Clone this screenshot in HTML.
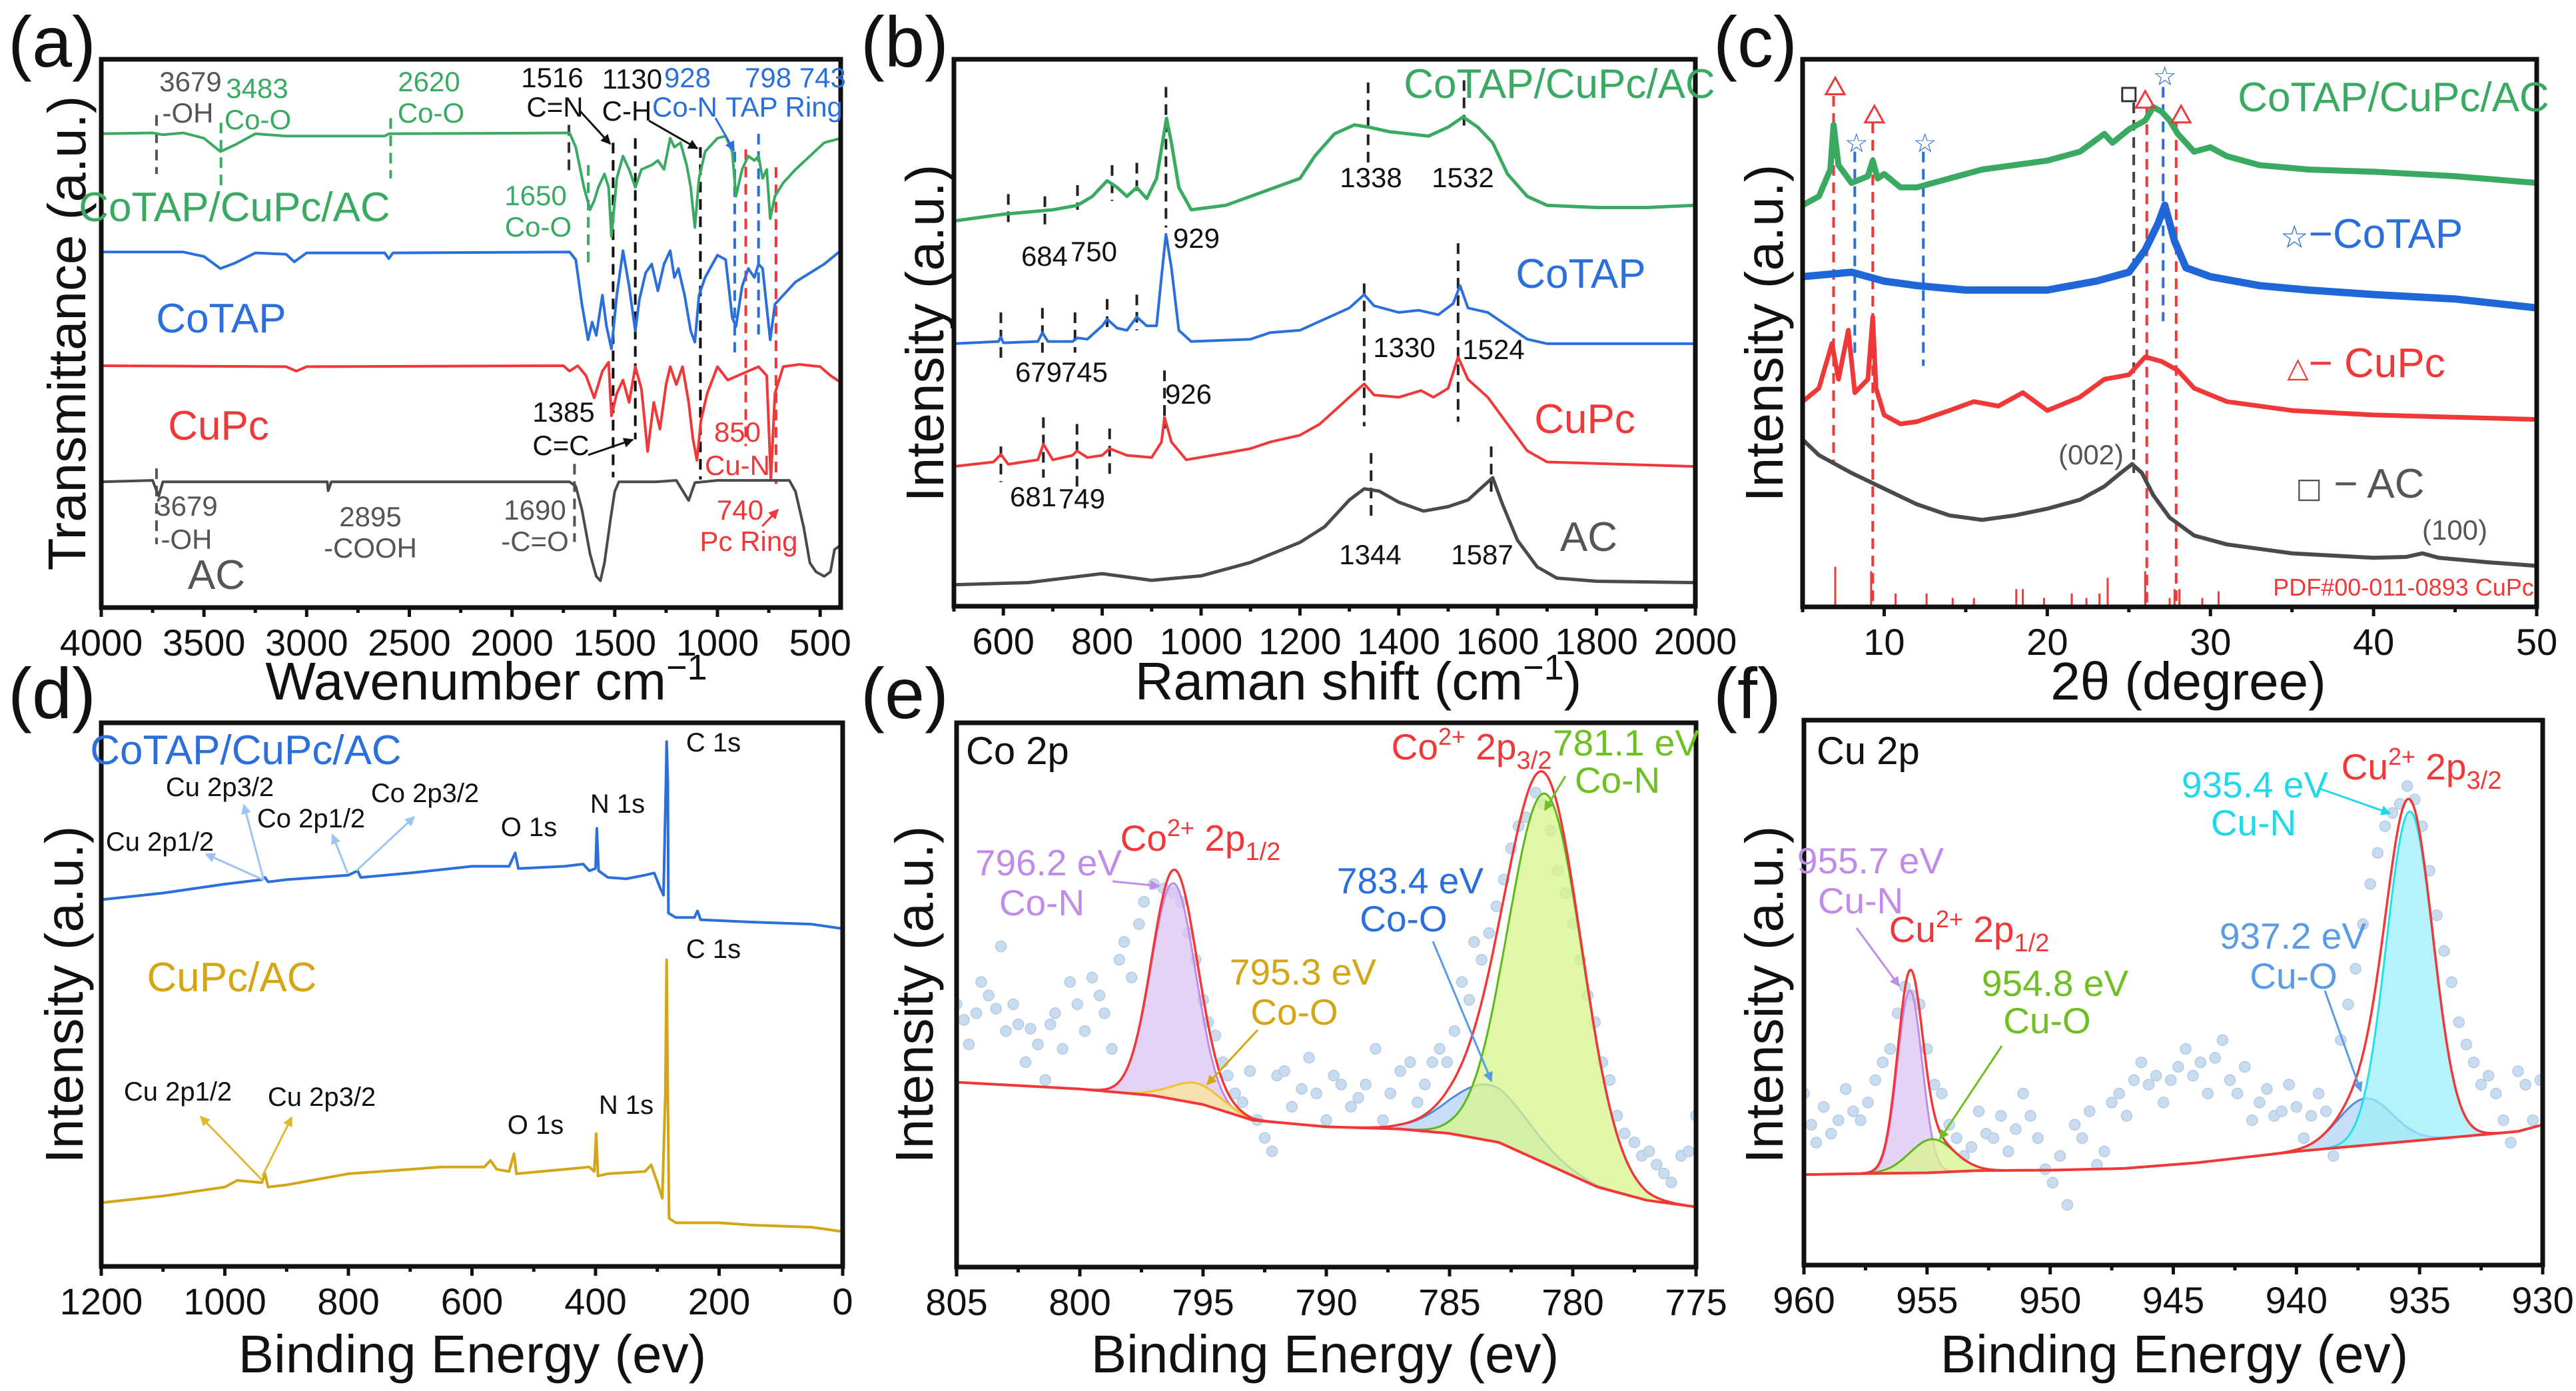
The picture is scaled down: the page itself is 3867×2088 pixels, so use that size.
<!DOCTYPE html>
<html><head><meta charset="utf-8">
<style>
html,body{margin:0;padding:0;background:#fff;}
svg{display:block;font-family:"Liberation Sans","DejaVu Sans",sans-serif;}
</style></head>
<body>
<svg id="fig" xmlns="http://www.w3.org/2000/svg" width="3867" height="2088" viewBox="0 0 3867 2088">
<rect width="3867" height="2088" fill="#fff"/>
<defs>
<marker id="ahK" viewBox="0 0 10 10" refX="9" refY="5" markerWidth="5" markerHeight="5" orient="auto"><path d="M0,0L10,5L0,10z" fill="#111"/></marker>
<marker id="ahB" viewBox="0 0 10 10" refX="9" refY="5" markerWidth="5" markerHeight="5" orient="auto"><path d="M0,0L10,5L0,10z" fill="#2a6fdb"/></marker>
<marker id="ahR" viewBox="0 0 10 10" refX="9" refY="5" markerWidth="5" markerHeight="5" orient="auto"><path d="M0,0L10,5L0,10z" fill="#f03838"/></marker>
<marker id="ahL" viewBox="0 0 10 10" refX="9" refY="5" markerWidth="5" markerHeight="5" orient="auto"><path d="M0,0L10,5L0,10z" fill="#9cc4f0"/></marker>
<marker id="ahG" viewBox="0 0 10 10" refX="9" refY="5" markerWidth="5" markerHeight="5" orient="auto"><path d="M0,0L10,5L0,10z" fill="#e0b830"/></marker>
<marker id="ahP" viewBox="0 0 10 10" refX="9" refY="5" markerWidth="5" markerHeight="5" orient="auto"><path d="M0,0L10,5L0,10z" fill="#c08ce8"/></marker>
<marker id="ahY" viewBox="0 0 10 10" refX="9" refY="5" markerWidth="5" markerHeight="5" orient="auto"><path d="M0,0L10,5L0,10z" fill="#d4a514"/></marker>
<marker id="ahE" viewBox="0 0 10 10" refX="9" refY="5" markerWidth="5" markerHeight="5" orient="auto"><path d="M0,0L10,5L0,10z" fill="#6cc020"/></marker>
<marker id="ahC" viewBox="0 0 10 10" refX="9" refY="5" markerWidth="5" markerHeight="5" orient="auto"><path d="M0,0L10,5L0,10z" fill="#20d8ea"/></marker>
<marker id="ahU" viewBox="0 0 10 10" refX="9" refY="5" markerWidth="5" markerHeight="5" orient="auto"><path d="M0,0L10,5L0,10z" fill="#5a9be8"/></marker>
</defs>
<g id="plots"></g>

<!-- panel labels -->
<g font-size="108" fill="#111">
<text x="12" y="100">(a)</text>
<text x="1292" y="100">(b)</text>
<text x="2572" y="100">(c)</text>
<text x="12" y="1078">(d)</text>
<text x="1292" y="1078">(e)</text>
<text x="2572" y="1078">(f)</text>
</g>

<!-- axis titles -->
<g font-size="80" fill="#111" text-anchor="middle">
<text x="730" y="1050">Wavenumber cm<tspan dy="-30" font-size="54">−1</tspan></text>
<text x="2039" y="1050">Raman shift (cm<tspan dy="-30" font-size="54">−1</tspan><tspan dy="30">)</tspan></text>
<text x="3285" y="1050">2θ (degree)</text>
<text x="709" y="2060">Binding Energy (ev)</text>
<text x="1989" y="2060">Binding Energy (ev)</text>
<text x="3264" y="2060">Binding Energy (ev)</text>
<text transform="translate(128,500) rotate(-90)">Transmittance (a.u.)</text>
<text transform="translate(1416,500) rotate(-90)">Intensity (a.u.)</text>
<text transform="translate(2676,500) rotate(-90)">Intensity (a.u.)</text>
<text transform="translate(124,1493) rotate(-90)">Intensity (a.u.)</text>
<text transform="translate(1400,1493) rotate(-90)">Intensity (a.u.)</text>
<text transform="translate(2676,1493) rotate(-90)">Intensity (a.u.)</text>
</g>

<!-- panel a annotations -->
<g font-size="42" text-anchor="middle">
<text x="286" y="137" fill="#555">3679</text>
<text x="282" y="184" fill="#555">-OH</text>
<text x="386" y="147" fill="#3aaa62">3483</text>
<text x="387" y="194" fill="#3aaa62">Co-O</text>
<text x="644" y="137" fill="#3aaa62">2620</text>
<text x="647" y="184" fill="#3aaa62">Co-O</text>
<text x="829" y="131" fill="#111">1516</text>
<text x="833" y="175" fill="#111">C=N</text>
<text x="949" y="133" fill="#111">1130</text>
<text x="941" y="181" fill="#111">C-H</text>
<text x="1032" y="131" fill="#2a6fdb">928</text>
<text x="1028" y="175" fill="#2a6fdb">Co-N</text>
<text x="1194" y="131" fill="#2a6fdb">798 743</text>
<text x="1177" y="175" fill="#2a6fdb">TAP Ring</text>
<text x="804" y="308" fill="#3aaa62">1650</text>
<text x="808" y="355" fill="#3aaa62">Co-O</text>
<text x="846" y="633" fill="#111">1385</text>
<text x="842" y="683" fill="#111">C=C</text>
<text x="1107" y="663" fill="#f03838">850</text>
<text x="1107" y="713" fill="#f03838">Cu-N</text>
<text x="280" y="774" fill="#555">3679</text>
<text x="280" y="824" fill="#555">-OH</text>
<text x="556" y="790" fill="#555">2895</text>
<text x="556" y="837" fill="#555">-COOH</text>
<text x="803" y="780" fill="#555">1690</text>
<text x="803" y="827" fill="#555">-C=O</text>
<text x="1111" y="780" fill="#f03838">740</text>
<text x="1124" y="827" fill="#f03838">Pc Ring</text>
</g>
<g font-size="62" text-anchor="middle">
<text x="352" y="332" fill="#3aaa62">CoTAP/CuPc/AC</text>
<text x="332" y="499" fill="#2a6fdb">CoTAP</text>
<text x="328" y="660" fill="#f03838">CuPc</text>
<text x="325" y="884" fill="#555">AC</text>
</g>
<g stroke-width="3" fill="none">
<line x1="871" y1="167" x2="916" y2="216" stroke="#111" marker-end="url(#ahK)"/>
<line x1="974" y1="181" x2="1047" y2="223" stroke="#111" marker-end="url(#ahK)"/>
<line x1="1074" y1="177" x2="1102" y2="226" stroke="#2a6fdb" marker-end="url(#ahB)"/>
<line x1="883" y1="683" x2="950" y2="660" stroke="#111" marker-end="url(#ahK)"/>
<line x1="1144" y1="790" x2="1168" y2="765" stroke="#f03838" marker-end="url(#ahR)"/>
</g>

<!-- panel b annotations -->
<g font-size="42" text-anchor="middle" fill="#111">
<text x="2058" y="281">1338</text>
<text x="2196" y="281">1532</text>
<text x="1568" y="399">684</text>
<text x="1642" y="392">750</text>
<text x="1796" y="372">929</text>
<text x="1559" y="573">679</text>
<text x="1628" y="573">745</text>
<text x="2108" y="536">1330</text>
<text x="2242" y="539">1524</text>
<text x="1784" y="606">926</text>
<text x="1551" y="760">681</text>
<text x="1624" y="763">749</text>
<text x="2057" y="847">1344</text>
<text x="2225" y="847">1587</text>
</g>
<g font-size="62" text-anchor="middle">
<text x="2341" y="147" fill="#3aaa62">CoTAP/CuPc/AC</text>
<text x="2373" y="432" fill="#2a6fdb">CoTAP</text>
<text x="2379" y="650" fill="#f03838">CuPc</text>
<text x="2385" y="827" fill="#555">AC</text>
</g>

<!-- panel c annotations -->
<g font-size="62" text-anchor="middle">
<text x="3593" y="167" fill="#3aaa62">CoTAP/CuPc/AC</text>
<text x="3560" y="372" fill="#2a6fdb"><tspan font-family="DejaVu Sans" font-size="48">☆</tspan>−CoTAP</text>
<text x="3552" y="566" fill="#f03838"><tspan font-family="DejaVu Sans" font-size="42">△</tspan>− CuPc</text>
<text x="3543" y="747" fill="#555"><tspan font-family="DejaVu Sans" font-size="42">□</tspan> −  AC</text>
</g>
<g font-size="42" text-anchor="middle" fill="#555">
<text x="3139" y="697">(002)</text>
<text x="3685" y="810">(100)</text>
<text x="3608" y="894" font-size="36" fill="#f03838">PDF#00-011-0893  CuPc</text>
</g>

<!-- panel d annotations -->
<g font-size="40" text-anchor="middle" fill="#111">
<text x="330" y="1195">Cu 2p3/2</text>
<text x="638" y="1204">Co 2p3/2</text>
<text x="467" y="1242">Co 2p1/2</text>
<text x="240" y="1277">Cu 2p1/2</text>
<text x="794" y="1255">O 1s</text>
<text x="927" y="1220">N 1s</text>
<text x="1071" y="1128">C 1s</text>
<text x="1071" y="1438">C 1s</text>
<text x="267" y="1652">Cu 2p1/2</text>
<text x="483" y="1660">Cu 2p3/2</text>
<text x="804" y="1702">O 1s</text>
<text x="940" y="1672">N 1s</text>
</g>
<g font-size="62" text-anchor="middle">
<text x="369" y="1147" fill="#2a6fdb">CoTAP/CuPc/AC</text>
<text x="348" y="1488" fill="#d4a514">CuPc/AC</text>
</g>
<g stroke-width="3" fill="none">
<line x1="396" y1="1321" x2="309" y2="1282" stroke="#9cc4f0" marker-end="url(#ahL)"/>
<line x1="396" y1="1321" x2="366" y2="1208" stroke="#9cc4f0" marker-end="url(#ahL)"/>
<line x1="522" y1="1311" x2="499" y2="1253" stroke="#9cc4f0" marker-end="url(#ahL)"/>
<line x1="535" y1="1307" x2="622" y2="1226" stroke="#9cc4f0" marker-end="url(#ahL)"/>
<line x1="394" y1="1772" x2="301" y2="1676" stroke="#e0b830" marker-end="url(#ahG)"/>
<line x1="394" y1="1765" x2="438" y2="1677" stroke="#e0b830" marker-end="url(#ahG)"/>
</g>

<!-- panel e annotations -->
<g font-size="55" text-anchor="middle">
<text x="1450" y="1147" text-anchor="start" fill="#111" font-size="58">Co 2p</text>
<text x="2209" y="1140" fill="#f03838">Co<tspan dy="-22" font-size="36">2+</tspan><tspan dy="22"> 2p</tspan><tspan dy="14" font-size="38">3/2</tspan></text>
<text x="1802" y="1277" fill="#f03838">Co<tspan dy="-22" font-size="36">2+</tspan><tspan dy="22"> 2p</tspan><tspan dy="14" font-size="38">1/2</tspan></text>
<text x="2441" y="1134" fill="#6cc020">781.1 eV</text>
<text x="2428" y="1190" fill="#6cc020">Co-N</text>
<text x="1574" y="1314" fill="#c08ce8">796.2 eV</text>
<text x="1564" y="1374" fill="#c08ce8">Co-N</text>
<text x="2117" y="1341" fill="#2a6fdb">783.4 eV</text>
<text x="2107" y="1398" fill="#2a6fdb">Co-O</text>
<text x="1956" y="1478" fill="#d4a514">795.3 eV</text>
<text x="1943" y="1538" fill="#d4a514">Co-O</text>
</g>
<g stroke-width="3" fill="none">
<line x1="1670" y1="1323" x2="1740" y2="1330" stroke="#c08ce8" marker-end="url(#ahP)"/>
<line x1="1888" y1="1546" x2="1812" y2="1628" stroke="#d4a514" marker-end="url(#ahY)"/>
<line x1="2151" y1="1413" x2="2239" y2="1623" stroke="#5a9be8" marker-end="url(#ahU)"/>
<line x1="2350" y1="1165" x2="2319" y2="1216" stroke="#6cc020" marker-end="url(#ahE)"/>
</g>

<!-- panel f annotations -->
<g font-size="55" text-anchor="middle">
<text x="2727" y="1147" text-anchor="start" fill="#111" font-size="58">Cu 2p</text>
<text x="3635" y="1170" fill="#f03838">Cu<tspan dy="-22" font-size="36">2+</tspan><tspan dy="22"> 2p</tspan><tspan dy="14" font-size="38">3/2</tspan></text>
<text x="2956" y="1414" fill="#f03838">Cu<tspan dy="-22" font-size="36">2+</tspan><tspan dy="22"> 2p</tspan><tspan dy="14" font-size="38">1/2</tspan></text>
<text x="3385" y="1197" fill="#20d8ea">935.4 eV</text>
<text x="3383" y="1254" fill="#20d8ea">Cu-N</text>
<text x="2808" y="1311" fill="#c08ce8">955.7 eV</text>
<text x="2793" y="1371" fill="#c08ce8">Cu-N</text>
<text x="3085" y="1495" fill="#6cc020">954.8 eV</text>
<text x="3073" y="1551" fill="#6cc020">Cu-O</text>
<text x="3442" y="1424" fill="#5a9be8">937.2 eV</text>
<text x="3443" y="1484" fill="#5a9be8">Cu-O</text>
</g>
<g stroke-width="3" fill="none">
<line x1="3480" y1="1183" x2="3588" y2="1221" stroke="#20d8ea" marker-end="url(#ahC)"/>
<line x1="2787" y1="1393" x2="2851" y2="1480" stroke="#c08ce8" marker-end="url(#ahP)"/>
<line x1="3005" y1="1570" x2="2912" y2="1710" stroke="#6cc020" marker-end="url(#ahE)"/>
<line x1="3490" y1="1487" x2="3544" y2="1638" stroke="#5a9be8" marker-end="url(#ahU)"/>
</g>
</svg>

<script>
// ---------------- DATA ----------------
const aGreen=[[4000,1100],[3750,1102],[3700,1098],[3600,1102],[3500,1090],[3420,1060],[3350,1075],[3250,1100],[3100,1095],[2620,1095],[2600,1100],[1720,1102],[1690,1070],[1650,980],[1620,930],[1600,950],[1580,980],[1550,1010],[1530,980],[1516,870],[1490,1000],[1460,1050],[1430,1020],[1400,980],[1370,1020],[1320,1030],[1290,1040],[1260,1020],[1230,1090],[1210,1070],[1180,1080],[1150,1030],[1130,980],[1110,890],[1090,1000],[1060,1060],[1000,1090],[960,1095],[928,1060],[910,960],[880,1020],[850,1050],[820,1040],[800,1050],[780,1000],[760,1020],[743,910],[720,960],[680,990],[620,1020],[550,1050],[480,1080],[400,1090]];
const aBlue=[[4000,835],[3600,835],[3500,825],[3420,798],[3350,810],[3250,833],[3100,830],[3060,813],[3000,833],[2620,833],[2600,820],[2580,833],[1720,835],[1690,818],[1660,718],[1630,638],[1610,678],[1590,648],[1560,738],[1540,668],[1516,618],[1490,738],[1460,838],[1430,758],[1400,658],[1380,728],[1350,788],[1320,808],[1290,748],[1260,808],[1230,838],[1210,778],[1190,798],[1160,738],[1130,658],[1110,633],[1090,738],[1060,778],[1000,828],[960,818],[928,688],[910,668],[880,758],[850,798],[820,778],[800,808],[780,798],[743,638],[720,718],[680,738],[620,768],[550,788],[480,808],[400,838]];
const aRed=[[4000,580],[3100,578],[3050,568],[3000,578],[1750,580],[1720,568],[1680,580],[1640,558],[1600,508],[1560,568],[1530,588],[1516,468],[1490,518],[1460,548],[1430,498],[1400,578],[1370,528],[1340,388],[1310,498],[1280,438],[1250,538],[1230,578],[1200,538],[1170,578],[1140,498],[1120,418],[1100,368],[1080,458],[1050,518],[1000,578],[950,548],[900,558],[850,568],[800,578],[760,558],[740,325],[720,518],[680,578],[600,583],[500,578],[450,558],[400,543]];
const aGray=[[4000,320],[3750,323],[3720,288],[3700,320],[3500,320],[2900,320],[2895,300],[2880,320],[1720,320],[1690,310],[1660,258],[1620,158],[1590,108],[1570,98],[1550,138],[1520,238],[1500,298],[1480,320],[1300,320],[1200,323],[1140,278],[1110,318],[1000,323],[800,323],[650,323],[620,298],[580,218],[550,138],[520,118],[480,108],[450,118],[430,168],[400,178]];
const aDash=[[3731,1142,1010,'#555'],[3731,350,180,'#555'],[3417,1125,980,'#3aaa62'],[2591,1135,1000,'#3aaa62'],[1723,1120,1010,'#333'],[1696,360,185,'#555'],[1629,1030,800,'#3aaa62'],[1508,1080,330,'#111'],[1400,1090,415,'#111'],[1083,1070,325,'#111'],[916,1060,610,'#2a6fdb'],[862,1065,400,'#f03838'],[800,1100,650,'#2a6fdb'],[715,1025,315,'#f03838']];
const aTicks=[4000,3500,3000,2500,2000,1500,1000,500];
const bGreen=[[500,905],[600,920],[700,930],[750,940],[780,960],[810,995],[830,980],[850,960],[870,980],[890,955],[910,1000],[925,1100],[930,1135],[940,1080],[955,980],[980,930],[1050,940],[1100,960],[1150,980],[1200,1000],[1230,1050],[1270,1100],[1310,1120],[1340,1115],[1380,1105],[1420,1100],[1460,1095],[1500,1115],[1530,1138],[1560,1115],[1590,1080],[1620,1010],[1660,960],[1700,940],[1800,935],[1900,935],[2000,940]];
const bBlue=[[500,630],[590,635],[595,645],[600,632],[670,635],[679,655],[690,635],[740,635],[750,643],[770,640],[800,670],[810,685],[830,665],[850,660],[870,690],[890,670],[910,670],[920,780],[929,875],[940,800],[955,660],[980,635],[1100,640],[1140,655],[1200,660],[1260,690],[1300,710],[1330,740],[1350,715],[1400,700],[1440,705],[1480,695],[1510,720],[1524,760],[1540,710],[1580,700],[1620,670],[1660,640],[1700,630],[2000,630]];
const bRed=[[500,355],[580,365],[595,382],[610,360],[670,370],[681,405],[700,370],[740,380],[749,390],[770,375],[800,380],[815,395],[850,380],[900,375],[920,410],[926,465],[940,410],[970,370],[1050,385],[1100,395],[1140,410],[1200,425],[1240,450],[1280,490],[1310,520],[1330,540],[1350,515],[1400,510],[1445,525],[1470,510],[1500,530],[1520,600],[1540,550],[1580,510],[1620,450],[1660,390],[1700,365],[2000,355]];
const bGray=[[500,90],[650,95],[800,115],[900,100],[1000,110],[1100,140],[1200,185],[1250,220],[1300,280],[1330,305],[1360,300],[1400,275],[1450,255],[1500,265],[1540,280],[1570,310],[1590,330],[1610,270],[1640,190],[1680,130],[1720,105],[1800,98],[2000,95]];
const bDash=[[929,1205,890],[1338,1215,1030],[1532,1220,1110],[610,965,895],[684,960,890],[750,985,930],[820,1030,950],[870,1035,960],[595,700,590],[679,710,610],[745,700,610],[810,730,660],[870,740,660],[1330,765,445],[1520,855,455],[595,400,320],[681,465,330],[749,450,310],[815,440,335],[926,570,440],[1344,385,230],[1587,400,295]];
const bTicks=[600,800,1000,1200,1400,1600,1800,2000];
const cGreen=[[5,940],[6,960],[6.7,1020],[6.9,1120],[7.2,1030],[8,990],[9,1005],[9.3,1040],[9.6,1000],[10,1010],[11,980],[12,980],[14,1000],[16,1020],[18,1030],[20,1040],[22,1060],[23.5,1100],[24,1080],[25,1110],[26,1130],[26.5,1160],[27,1150],[27.5,1130],[28,1100],[29,1060],[30,1070],[31,1050],[33,1030],[36,1020],[40,1015],[45,1005],[50,990]];
const cBlue=[[5,780],[8,790],[10,770],[12,760],[15,750],[20,750],[23,770],[25,790],[26,840],[26.8,900],[27.2,940],[27.8,860],[28.5,800],[30,780],[33,760],[36,750],[40,740],[45,730],[50,710]];
const cRed=[[5,500],[6,530],[6.8,630],[7.2,550],[7.8,660],[8.2,520],[9,550],[9.3,690],[9.5,530],[10,470],[11,450],[12,455],[14,480],[15.5,500],[17,490],[18.5,520],[20,480],[22,510],[23.5,550],[25,560],[26,600],[27,590],[28,570],[29,530],[31,500],[35,480],[40,470],[45,465],[50,460]];
const cGray=[[5,415],[6,380],[8,340],[10,305],[12,270],[14,245],[16,235],[18,245],[20,260],[22,280],[23.5,310],[24.5,340],[25.2,360],[25.8,340],[26.5,290],[27.5,240],[29,200],[31,180],[35,160],[40,150],[42,152],[43,160],[44,150],[47,140],[50,132]];
const cRefBars=[[7,130],[9.2,120],[10.7,70],[12.6,70],[14.2,60],[15.5,60],[18.1,80],[18.5,80],[19.8,60],[21.5,70],[22.4,60],[23.2,70],[23.7,105],[26,120],[27.5,60],[27.8,80],[28.1,80],[29.5,60],[30.5,75]];
const cDash=[[6.9,1185,360,'#f03838'],[9.3,1125,40,'#f03838'],[8.2,1060,600,'#2a6fdb'],[12.4,1060,580,'#2a6fdb'],[25.3,1170,340,'#444'],[26.1,1160,40,'#f03838'],[27.1,1205,680,'#2a6fdb'],[27.9,1125,40,'#f03838']];
const cTri=[[7,1205],[9.4,1142],[26,1175],[28.2,1142]];
const cStar=[[8.3,1080],[12.5,1080],[27.2,1230]];
const cSquare=[[25,1188]];
const cTicks=[10,20,30,40,50];
const dBlue=[[1200,935],[1100,950],[1000,970],[940,980],[935,985],[930,975],[900,980],[800,990],[785,1000],[780,985],[700,995],[600,1010],[540,1010],[530,1040],[525,1005],[450,1010],[420,1015],[410,1000],[400,1005],[398,1095],[395,1000],[380,985],[350,982],[320,990],[305,995],[295,960],[290,945],[286,1200],[285,1290],[283,1200],[282,905],[270,895],[240,895],[235,910],[230,890],[150,885],[50,880],[0,870]];
const dGold=[[1200,255],[1100,270],[1000,290],[980,305],[940,300],[935,320],[930,290],[900,295],[800,320],[700,330],[650,335],[580,335],[570,350],[560,330],[540,325],[532,365],[528,320],[450,330],[410,335],[402,325],[399,410],[396,315],[380,320],[320,325],[310,340],[300,300],[292,265],[287,500],[285,800],[283,500],[281,220],[270,210],[200,210],[150,205],[50,200],[0,190]];
const dTicks=[1200,1000,800,600,400,200,0];
const eBackground=[[805,525],[800,510],[797,495],[795,475],[793,440],[790,425],[787,420],[785,410],[783,390],[781,340],[779,290],[777,260],[775,245]];
const ePeakCenters=[796.2,795.3,783.4,781.1];
const ePeakHeights=[485,45,125,830];
const ePeakWidths=[0.9,1.0,1.6,1.5];
const eScatter=[[805,700],[804.7,665],[804.5,610],[804.2,680],[804,750],[803.7,720],[803.4,690],[803.2,830],[803,640],[802.7,700],[802.5,655],[802.2,570],[802,645],[801.7,610],[801.4,530],[801.2,655],[801,680],[800.7,600],[800.4,750],[800.1,700],[799.8,640],[799.5,760],[799.2,720],[799,680],[798.7,600],[798.4,800],[798.2,840],[797.9,760],[797.6,880],[797.4,930],[797,970],[796.6,960],[796.2,950],[795.9,930],[795.6,860],[795.3,800],[795,710],[794.8,660],[794.5,630],[794.2,570],[794,540],[793.7,500],[793.4,480],[793.1,550],[792.8,440],[792.5,400],[792.2,370],[792,540],[791.7,550],[791.4,470],[791,510],[790.7,580],[790.4,500],[790,440],[789.7,540],[789.4,520],[789,470],[788.7,490],[788.4,520],[788,600],[787.7,440],[787.4,500],[787,550],[786.6,570],[786.3,480],[786,520],[785.7,570],[785.4,600],[785.1,570],[784.8,640],[784.5,750],[784.2,710],[784,840],[783.7,800],[783.4,860],[783.1,920],[782.8,980],[782.5,1050],[782.2,1100],[781.9,1120],[781.5,1175],[781.2,1150],[780.9,1090],[780.6,1000],[780.3,950],[780,880],[779.7,800],[779.4,720],[779.1,660],[778.8,570],[778.5,530],[778.2,450],[777.9,410],[777.5,390],[777.2,360],[776.9,370],[776.6,340],[776.3,320],[776,300],[775.6,360],[775.3,370],[775,450]];
const eTicks=[805,800,795,790,785,780,775];
const fBackground=[[960,318],[958,320],[955,322],[953,327],[950,328],[947,332],[944,345],[940,370],[937,385],[934,400],[932,410],[931,415],[930,430]];
const fPeakCenters=[955.7,954.8,937.2,935.4];
const fPeakHeights=[410,75,105,740];
const fPeakWidths=[0.5,0.9,1.1,0.95];
const fScatter=[[960,500],[959.7,430],[959.5,390],[959.2,470],[958.9,410],[958.6,440],[958.3,510],[958,460],[957.7,440],[957.4,480],[957.1,530],[956.8,570],[956.5,600],[956.2,680],[955.9,740],[955.6,720],[955.3,700],[955,600],[954.7,520],[954.4,500],[954.1,430],[953.8,400],[953.5,360],[953.2,380],[952.9,460],[952.6,410],[952.3,400],[952,450],[951.7,370],[951.4,420],[951.1,500],[950.8,450],[950.5,400],[950.2,330],[949.9,300],[949.6,360],[949.3,250],[949,430],[948.7,400],[948.4,460],[948.1,340],[947.8,370],[947.5,480],[947.2,500],[946.9,450],[946.6,530],[946.3,570],[946,520],[945.7,540],[945.4,480],[945.1,530],[944.8,560],[944.5,600],[944.2,540],[943.9,570],[943.6,500],[943.3,580],[943,620],[942.7,530],[942.4,500],[942.1,560],[941.8,440],[941.5,480],[941.2,510],[940.9,450],[940.6,460],[940.3,520],[940,470],[939.7,400],[939.4,450],[939.1,500],[938.8,460],[938.5,360],[938.2,620],[937.9,700],[937.6,780],[937.3,880],[937,970],[936.7,1040],[936.4,1100],[936.1,1130],[935.8,1150],[935.5,1190],[935.2,1160],[934.9,1100],[934.6,1000],[934.3,900],[934,820],[933.7,750],[933.4,660],[933.1,610],[932.8,570],[932.5,520],[932.2,540],[931.9,500],[931.6,440],[931.3,390],[931,550],[930.7,520],[930.4,440],[930.1,530]];
const fTicks=[960,955,950,945,940,935,930];

// ---------------- RENDER ----------------
const NS='http://www.w3.org/2000/svg';
const root=document.getElementById('plots');
const P={
 a:{x0:152,x1:1262,y0:89,y1:912,d0:4000,d1:400,v0:38,v1:1267,minor:250},
 b:{x0:1432,x1:2545,y0:89,y1:910,d0:500,d1:2000,v0:42,v1:1267,minor:100},
 c:{x0:2706,x1:3808,y0:89,y1:911,d0:5,d1:50,v0:40,v1:1267,minor:5},
 d:{x0:152,x1:1265,y0:1085,y1:1901,d0:1200,d1:0,v0:112,v1:1332,minor:100},
 e:{x0:1436,x1:2546,y0:1085,y1:1902,d0:805,d1:775,v0:110,v1:1332,minor:2.5},
 f:{x0:2708,x1:3817,y0:1081,y1:1899,d0:960,d1:930,v0:115,v1:1338,minor:2.5}};
function sx(p,x){return p.x0+(x-p.d0)/(p.d1-p.d0)*(p.x1-p.x0);}
function sy(p,v){return p.y1-(v-p.v0)/(p.v1-p.v0)*(p.y1-p.y0);}
function el(tag,parent){const e=document.createElementNS(NS,tag);parent.appendChild(e);return e;}
function pathD(p,pts){return pts.map((q,i)=>(i?'L':'M')+sx(p,q[0]).toFixed(1)+','+sy(p,q[1]).toFixed(1)).join('');}

function panelGroup(key){
  const p=P[key];
  const g=el('g',root);
  
  
  const cp=el('clipPath',g);cp.setAttribute('id','clip-'+key);
  const r=el('rect',cp);r.setAttribute('x',p.x0);r.setAttribute('y',p.y0);r.setAttribute('width',p.x1-p.x0);r.setAttribute('height',p.y1-p.y0);
  const inner=el('g',g);inner.setAttribute('clip-path','url(#clip-'+key+')');
  
  
  return {g,inner,p};
}
function drawLine(pg,pts,color,w,name){
  const e=el('path',pg.inner);
  e.setAttribute('d',pathD(pg.p,pts));e.setAttribute('fill','none');e.setAttribute('stroke',color);
  e.setAttribute('stroke-width',w);e.setAttribute('stroke-linejoin','round');
  
  
}
function drawDash(pg,x,v1,v2,color,name){
  const p=pg.p;const e=el('line',pg.inner);
  e.setAttribute('x1',sx(p,x));e.setAttribute('x2',sx(p,x));e.setAttribute('y1',sy(p,v1));e.setAttribute('y2',sy(p,v2));
  e.setAttribute('stroke',color);e.setAttribute('stroke-width',4);e.setAttribute('stroke-dasharray','16,10');
  
  
}
function drawAxes(pg,key,ticks){
  const p=pg.p;
  const box=el('rect',pg.g);
  box.setAttribute('x',p.x0);box.setAttribute('y',p.y0);box.setAttribute('width',p.x1-p.x0);box.setAttribute('height',p.y1-p.y0);
  box.setAttribute('fill','none');box.setAttribute('stroke','#111');box.setAttribute('stroke-width',7);
  
  
  const lo=Math.min(p.d0,p.d1),hi=Math.max(p.d0,p.d1);
  for(let t=Math.ceil(lo/p.minor)*p.minor;t<=hi+1e-9;t+=p.minor){
    const major=ticks.some(v=>Math.abs(v-t)<1e-6);
    const tk=el('line',pg.g);const X=sx(p,t);
    tk.setAttribute('x1',X);tk.setAttribute('x2',X);tk.setAttribute('y1',p.y1);tk.setAttribute('y2',p.y1+(major?14:8));
    tk.setAttribute('stroke','#111');tk.setAttribute('stroke-width',5);
    
    
  }
  ticks.forEach(t=>{
    const tx=el('text',pg.g);
    tx.setAttribute('x',sx(p,t));tx.setAttribute('y',p.y1+72);tx.setAttribute('text-anchor','middle');
    tx.setAttribute('font-size',56);tx.setAttribute('fill','#111');tx.textContent=String(t);
    
    
  });
}
function interp(arr,x){
  for(let i=0;i<arr.length-1;i++){
    const a=arr[i],b=arr[i+1];const lo=Math.min(a[0],b[0]),hi=Math.max(a[0],b[0]);
    if(x>=lo&&x<=hi){const t=(x-a[0])/(b[0]-a[0]);return a[1]+t*(b[1]-a[1]);}
  }
  return x>Math.max(arr[0][0],arr[arr.length-1][0])===(arr[0][0]>arr[arr.length-1][0])?arr[0][1]:arr[arr.length-1][1];
}
function gauss(x,c,h,s){return h*Math.exp(-(x-c)*(x-c)/(2*s*s));}

(function(){
  const pg=panelGroup('a');
  aDash.forEach(d=>drawDash(pg,d[0],d[1],d[2],d[3],'a-dashed-marker'));
  drawLine(pg,aGreen,'#3aaa62',4,'a-series-cotap-cupc-ac');
  drawLine(pg,aBlue,'#2a6fdb',4,'a-series-cotap');
  drawLine(pg,aRed,'#f03838',4,'a-series-cupc');
  drawLine(pg,aGray,'#4a4a4a',4,'a-series-ac');
  drawAxes(pg,'a',aTicks);
})();
(function(){
  const pg=panelGroup('b');
  bDash.forEach(d=>drawDash(pg,d[0],d[1],d[2],'#222','b-dashed-marker'));
  drawLine(pg,bGreen,'#3aaa62',5,'b-series-cotap-cupc-ac');
  drawLine(pg,bBlue,'#2a6fdb',4,'b-series-cotap');
  drawLine(pg,bRed,'#f03838',4,'b-series-cupc');
  drawLine(pg,bGray,'#4a4a4a',5,'b-series-ac');
  drawAxes(pg,'b',bTicks);
})();
(function(){
  const pg=panelGroup('c');const p=pg.p;
  cDash.forEach(d=>drawDash(pg,d[0],d[1],d[2],d[3],'c-dashed-marker'));
  cRefBars.forEach(b=>{
    const e=el('line',pg.inner);
    e.setAttribute('x1',sx(p,b[0]));e.setAttribute('x2',sx(p,b[0]));e.setAttribute('y1',sy(p,b[1]));e.setAttribute('y2',p.y1);
    e.setAttribute('stroke','#f03838');e.setAttribute('stroke-width',3);
    
    
  });
  drawLine(pg,cGreen,'#3aaa62',9,'c-series-cotap-cupc-ac');
  drawLine(pg,cBlue,'#1f66d8',11,'c-series-cotap');
  drawLine(pg,cRed,'#f03838',7,'c-series-cupc');
  drawLine(pg,cGray,'#4a4a4a',6,'c-series-ac');
  cTri.forEach(m=>{
    const e=el('path',pg.inner);const X=sx(p,m[0]),Y=sy(p,m[1]);
    e.setAttribute('d',`M${X},${Y-14}L${X+14},${Y+11}L${X-14},${Y+11}Z`);
    e.setAttribute('fill','none');e.setAttribute('stroke','#f03838');e.setAttribute('stroke-width',3);
    
    
  });
  cStar.forEach(m=>{
    const e=el('text',pg.inner);
    e.setAttribute('x',sx(p,m[0]));e.setAttribute('y',sy(p,m[1])+14);e.setAttribute('text-anchor','middle');
    e.setAttribute('font-size',40);e.setAttribute('fill','#2a6fdb');e.setAttribute('font-family','DejaVu Sans');e.textContent='☆';
    
    
  });
  cSquare.forEach(m=>{
    const e=el('rect',pg.inner);
    e.setAttribute('x',sx(p,m[0])-10);e.setAttribute('y',sy(p,m[1])-10);e.setAttribute('width',20);e.setAttribute('height',20);
    e.setAttribute('fill','none');e.setAttribute('stroke','#333');e.setAttribute('stroke-width',3);
    
    
  });
  drawAxes(pg,'c',cTicks);
})();
(function(){
  const pg=panelGroup('d');
  drawLine(pg,dBlue,'#2a6fdb',4,'d-series-cotap-cupc-ac');
  drawLine(pg,dGold,'#d4a514',4,'d-series-cupc-ac');
  drawAxes(pg,'d',dTicks);
})();
function xpsPanel(key,bg,cs,hs,ws,sc,fills,strokes,names){
  const pg=panelGroup(key);const p=pg.p;
  sc.forEach(q=>{
    const c=el('circle',pg.inner);
    c.setAttribute('cx',sx(p,q[0]).toFixed(1));c.setAttribute('cy',sy(p,q[1]).toFixed(1));c.setAttribute('r',8);
    c.setAttribute('fill','#c9dcef');c.setAttribute('stroke','#b4cbe3');c.setAttribute('stroke-width',1.5);
    
    
  });
  const lo=Math.min(p.d0,p.d1),hi=Math.max(p.d0,p.d1);
  cs.forEach((c,i)=>{
    const top=[],bot=[];
    for(let x=Math.max(lo,c-4*ws[i]);x<=Math.min(hi,c+4*ws[i]);x+=0.05){
      const b=interp(bg,x);top.push([x,b+gauss(x,c,hs[i],ws[i])]);bot.push([x,b]);
    }
    const f=el('path',pg.inner);
    f.setAttribute('d',pathD(p,top.concat(bot.reverse()))+'Z');
    f.setAttribute('fill',fills[i]);f.setAttribute('fill-opacity',0.75);f.setAttribute('stroke','none');
    
    
    drawLine(pg,top,strokes[i],3,key+'-peak-'+names[i]);
  });
  drawLine(pg,bg,'#f03838',4,key+'-background');
  const env=[];
  for(let x=lo;x<=hi+1e-9;x+=0.05){
    let v=interp(bg,x);cs.forEach((c,i)=>{v+=gauss(x,c,hs[i],ws[i]);});env.push([x,v]);
  }
  drawLine(pg,env,'#f03838',3.5,key+'-envelope-fit');
  return pg;
}
const pe=xpsPanel('e',eBackground,ePeakCenters,ePeakHeights,ePeakWidths,eScatter,
  ['#dcc4f3','#fbe49a','#b5d1f5','#d8f58c'],['#c08ce8','#f0c030','#4f8fe0','#5cb818'],['co-n-796','co-o-795','co-o-783','co-n-781']);
drawAxes(pe,'e',eTicks);
const pf=xpsPanel('f',fBackground,fPeakCenters,fPeakHeights,fPeakWidths,fScatter,
  ['#dcc4f3','#d8f58c','#b5d1f5','#9eeef8'],['#c08ce8','#5cb818','#4f8fe0','#20e0f0'],['cu-n-955','cu-o-954','cu-o-937','cu-n-935']);
drawAxes(pf,'f',fTicks);
</script>
</body></html>
